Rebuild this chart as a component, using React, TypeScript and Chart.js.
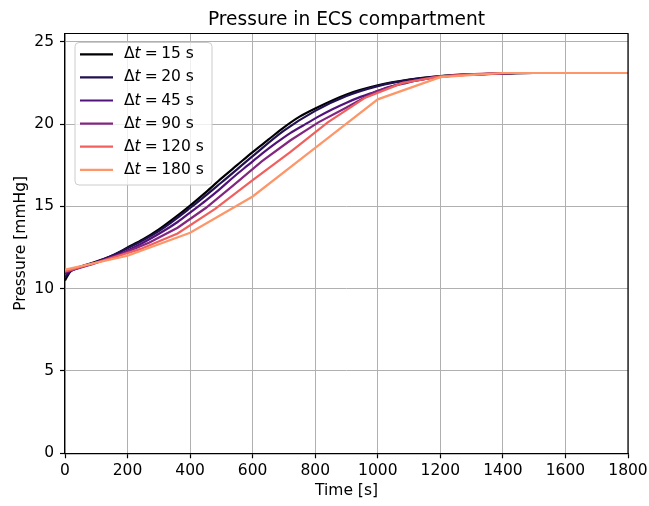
import React, { useEffect, useRef } from "react";
import { Chart, registerables } from "chart.js";

Chart.register(...registerables);

// ---- data ----
const dtLabels = ["15", "20", "45", "90", "120", "180"];
const seriesColors = ["#000004", "#221150", "#51127c", "#832681", "#f1605d", "#fd9668"];

const time15 = [0, 15, 30, 60, 100, 150, 200, 250, 300, 350, 400, 450, 500, 550, 600, 650, 700, 750, 800, 900, 1000, 1100, 1200, 1300, 1400, 1500, 1800];
const pres15 = [10.5, 11.0, 11.2, 11.4, 11.65, 12.0, 12.5, 13.0, 13.6, 14.3, 15.05, 15.85, 16.7, 17.5, 18.3, 19.05, 19.8, 20.45, 20.95, 21.8, 22.35, 22.7, 22.92, 23.02, 23.07, 23.1, 23.1];

const time20 = [0, 20, 40, 100, 200, 300, 400, 500, 600, 700, 800, 900, 1000, 1100, 1200, 1300, 1400, 1500, 1800];
const pres20 = [10.7, 11.1, 11.25, 11.6, 12.45, 13.5, 14.9, 16.45, 18.05, 19.6, 20.8, 21.7, 22.3, 22.68, 22.9, 23.0, 23.06, 23.1, 23.1];

const time45 = [0, 45, 90, 135, 180, 225, 270, 315, 360, 405, 450, 495, 540, 585, 630, 675, 720, 765, 810, 855, 900, 945, 990, 1035, 1080, 1125, 1170, 1215, 1260, 1350, 1440, 1800];
const pres45 = [10.9, 11.3, 11.55, 11.85, 12.15, 12.55, 13.0, 13.5, 14.05, 14.7, 15.35, 16.05, 16.8, 17.5, 18.2, 18.85, 19.45, 19.95, 20.45, 20.9, 21.3, 21.65, 21.95, 22.25, 22.45, 22.65, 22.8, 22.9, 22.97, 23.05, 23.1, 23.1];

const time90 = [0, 90, 180, 270, 360, 450, 540, 630, 720, 810, 900, 990, 1080, 1170, 1260, 1350, 1440, 1800];
const pres90 = [11.0, 11.5, 12.1, 12.8, 13.7, 14.9, 16.3, 17.75, 19.0, 20.1, 21.0, 21.95, 22.5, 22.8, 22.97, 23.05, 23.1, 23.1];

const time120 = [0, 120, 240, 360, 480, 600, 720, 840, 960, 1080, 1200, 1320, 1440, 1800];
const pres120 = [11.05, 11.7, 12.4, 13.35, 14.85, 16.6, 18.3, 20.1, 21.6, 22.5, 22.9, 23.05, 23.1, 23.1];

const time180 = [0, 200, 400, 600, 800, 1000, 1200, 1400, 1800];
const pres180 = [11.15, 12.0, 13.4, 15.6, 18.55, 21.5, 22.85, 23.1, 23.1];

const seriesTimes = [time15, time20, time45, time90, time120, time180];
const seriesPressures = [pres15, pres20, pres45, pres90, pres120, pres180];
const smoothSeries = [true, true, true, false, false, false];

const xMin = 0;
const xMax = 1800;
const xStep = 200;
const yMin = 0;
const yMax = 25.5;
const yStep = 5;

const titleText = "Pressure in ECS compartment";
const xTitle = "Time [s]";
const yTitle = "Pressure [mmHg]";

const FONT = "'DejaVu Sans'";
const TICK_SIZE = 15.5;
const TITLE_SIZE = 18.6;
const LINE_W = 2.2;

const framePlugin = {
  id: "frameAndLegend",
  afterDatasetsDraw(chart: any) {
    const ctx = chart.ctx;
    const area = chart.chartArea;
    ctx.save();
    const bx = area.left + 10;
    const by = area.top + 9;
    const bw = 137;
    const bh = 142.5;
    const r = 4;
    ctx.beginPath();
    ctx.moveTo(bx + r, by);
    ctx.lineTo(bx + bw - r, by);
    ctx.quadraticCurveTo(bx + bw, by, bx + bw, by + r);
    ctx.lineTo(bx + bw, by + bh - r);
    ctx.quadraticCurveTo(bx + bw, by + bh, bx + bw - r, by + bh);
    ctx.lineTo(bx + r, by + bh);
    ctx.quadraticCurveTo(bx, by + bh, bx, by + bh - r);
    ctx.lineTo(bx, by + r);
    ctx.quadraticCurveTo(bx, by, bx + r, by);
    ctx.closePath();
    ctx.fillStyle = "rgba(255,255,255,0.8)";
    ctx.fill();
    ctx.strokeStyle = "#cccccc";
    ctx.lineWidth = 1;
    ctx.stroke();

    const normalFont = `${TICK_SIZE}px ${FONT}`;
    const italicFont = `italic ${TICK_SIZE}px ${FONT}`;
    for (let i = 0; i < dtLabels.length; i++) {
      const y = by + 11.8 + i * 23.1;
      ctx.strokeStyle = seriesColors[i];
      ctx.lineWidth = LINE_W;
      ctx.beginPath();
      ctx.moveTo(bx + 5, y);
      ctx.lineTo(bx + 38, y);
      ctx.stroke();

      ctx.fillStyle = "#000";
      ctx.textBaseline = "middle";
      ctx.textAlign = "left";
      let x = bx + 49;
      ctx.font = normalFont;
      ctx.fillText("Δ", x, y);
      x += ctx.measureText("Δ").width;
      ctx.font = italicFont;
      ctx.fillText("t", x, y);
      x += ctx.measureText("t").width + 4;
      ctx.font = normalFont;
      ctx.fillText("=", x, y);
      x += ctx.measureText("=").width + 3.5;
      ctx.fillText(dtLabels[i] + " s", x, y);
    }
    ctx.restore();
  },
  afterDraw(chart: any) {
    const ctx = chart.ctx;
    const a = chart.chartArea;
    ctx.save();
    ctx.strokeStyle = "#000";
    ctx.lineWidth = 1.2;
    ctx.beginPath();
    ctx.moveTo(a.left, a.top);
    ctx.lineTo(a.right, a.top);
    ctx.lineTo(a.right, a.bottom);
    ctx.stroke();
    // title centred over the axes
    ctx.fillStyle = "#000";
    ctx.font = `${TITLE_SIZE}px ${FONT}`;
    ctx.textAlign = "center";
    ctx.textBaseline = "alphabetic";
    ctx.fillText(titleText, (a.left + a.right) / 2, a.top - 8.5);
    ctx.restore();
  },
};

export default function App() {
  const canvasRef = useRef<HTMLCanvasElement | null>(null);

  useEffect(() => {
    const canvas = canvasRef.current;
    if (!canvas) return;
    const datasets = dtLabels.map((lab, i) => ({
      label: "Δt = " + lab + " s",
      data: seriesTimes[i].map((t, j) => ({ x: t, y: seriesPressures[i][j] })),
      borderColor: seriesColors[i],
      backgroundColor: seriesColors[i],
      borderWidth: LINE_W,
      pointRadius: 0,
      fill: false,
      cubicInterpolationMode: smoothSeries[i] ? "monotone" : "default",
      order: dtLabels.length - i,
    }));

    const tickFont = { family: FONT, size: TICK_SIZE };
    const chart = new Chart(canvas, {
      type: "line",
      data: { datasets: datasets as any },
      plugins: [framePlugin],
      options: {
        responsive: false,
        animation: false,
        devicePixelRatio: 1,
        layout: { padding: { left: 0, right: 21, top: 33.5, bottom: 0 } },
        plugins: {
          legend: { display: false },
          tooltip: { enabled: false },
          title: { display: false },
        },
        scales: {
          x: {
            type: "linear",
            min: xMin,
            max: xMax,
            ticks: {
              stepSize: xStep,
              includeBounds: false,
              color: "#000",
              font: tickFont,
              padding: 3,
              maxRotation: 0,
              autoSkip: false,
              callback: (v: any) => String(v),
            },
            grid: { color: "#b0b0b0", lineWidth: 1, tickColor: "#000", tickLength: 5, tickWidth: 1.2 },
            border: { color: "#000", width: 1.2 },
            title: {
              display: true,
              text: xTitle,
              color: "#000",
              font: { family: FONT, size: TICK_SIZE, lineHeight: 1.2 },
              padding: { top: 0, bottom: 6 },
            },
            afterFit: (s: any) => {
              s.height = 52.7;
              s.paddingLeft = 0;
              s.paddingRight = 0;
            },
          },
          y: {
            type: "linear",
            min: yMin,
            max: yMax,
            ticks: {
              stepSize: yStep,
              includeBounds: false,
              color: "#000",
              font: tickFont,
              padding: 6,
              callback: (v: any) => String(v),
            },
            grid: { color: "#b0b0b0", lineWidth: 1, tickColor: "#000", tickLength: 5, tickWidth: 1.2 },
            border: { color: "#000", width: 1.2 },
            title: {
              display: true,
              text: yTitle,
              color: "#000",
              font: { family: FONT, size: TICK_SIZE, lineHeight: 1.2 },
              padding: { top: 12, bottom: 0 },
            },
            afterFit: (s: any) => {
              s.width = 65;
              s.paddingTop = 0;
              s.paddingBottom = 0;
            },
          },
        },
      } as any,
    });
    return () => chart.destroy();
  }, []);

  return (
    <div style={{ position: "absolute", left: 0, top: 0, width: 649, height: 506, background: "#fff" }}>
      <canvas ref={canvasRef} width={649} height={506} style={{ width: 649, height: 506, display: "block" }} />
    </div>
  );
}
